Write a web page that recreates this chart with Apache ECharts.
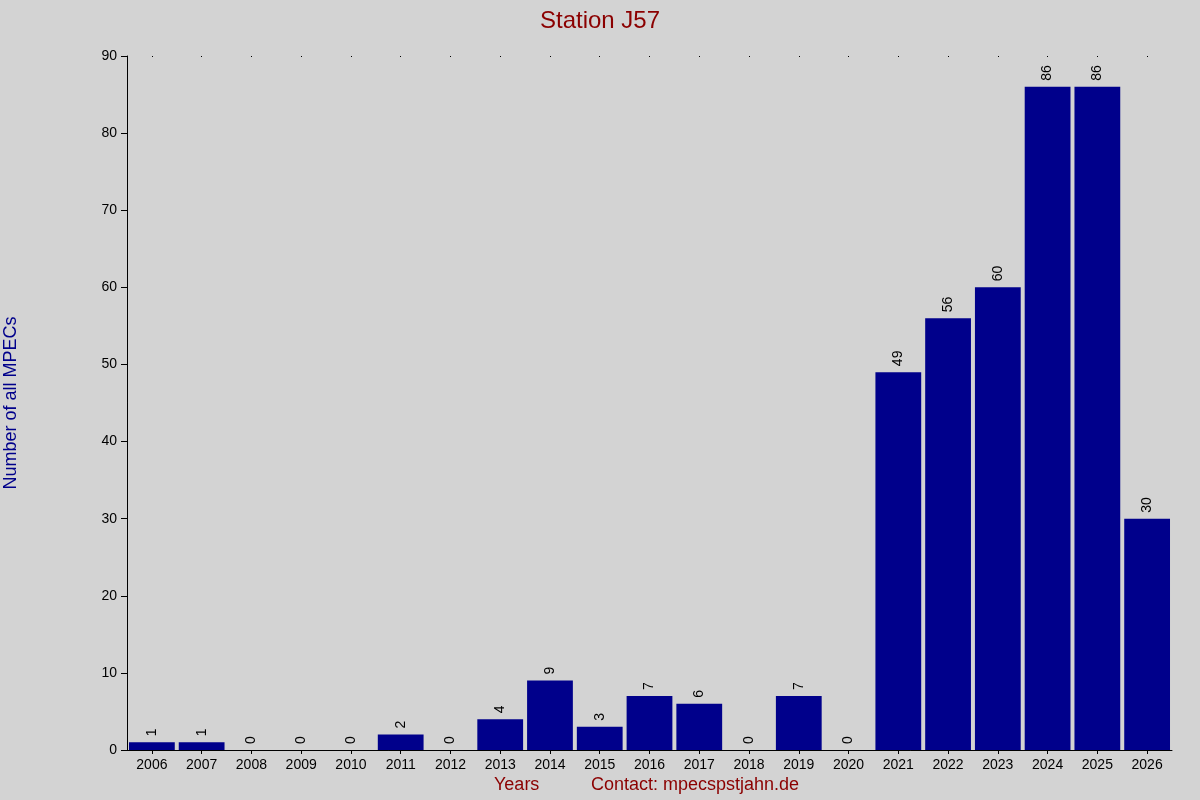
<!DOCTYPE html>
<html><head><meta charset="utf-8">
<script src="https://cdn.jsdelivr.net/npm/echarts@6/dist/echarts.min.js"></script>
<style>html,body{margin:0;padding:0;background:#d3d3d3}#c{width:1200px;height:800px}</style>
</head><body><div id="c"></div>
<script>
const years = ['2006','2007','2008','2009','2010','2011','2012','2013','2014','2015','2016','2017','2018','2019','2020','2021','2022','2023','2024','2025','2026'];
const counts = [1,1,0,0,0,2,0,4,9,3,7,6,0,7,0,49,56,60,86,86,30];
const yTicks = {min:0,max:90,interval:10};
const chart = echarts.init(document.getElementById('c'));
const font = 'Liberation Sans, Arial, sans-serif';
chart.setOption({
  backgroundColor:'#d3d3d3',
  animation:false,
  title:{text:'Station J57',left:'center',top:4,textStyle:{color:'#8b0000',fontSize:24,fontWeight:'normal',fontFamily:font}},
  graphic:[
    {type:'text',left:494,top:776,style:{text:'Years',fill:'#8b0000',font:'18px '+font}},
    {type:'text',left:591,top:776,style:{text:'Contact: mpecspstjahn.de',fill:'#8b0000',font:'18px '+font}},
    {type:'text',x:20,y:403,rotation:Math.PI/2,style:{text:'Number of all MPECs',fill:'#00008b',font:'18px '+font,align:'center',verticalAlign:'bottom'}}
  ],
  grid:{left:127,right:28,top:56,bottom:50},
  xAxis:[{type:'category',data:years,axisLine:{lineStyle:{color:'#000'}},axisTick:{show:true,alignWithLabel:true,length:4,lineStyle:{color:'#000'}},
    axisLabel:{color:'#000',fontSize:14,fontFamily:font,margin:8}},
    {type:'category',position:'top',data:years,axisLine:{show:false},axisLabel:{show:false},axisTick:{show:true,alignWithLabel:true,inside:true,length:1,lineStyle:{color:'#000'}}}],
  yAxis:{type:'value',min:yTicks.min,max:yTicks.max,interval:yTicks.interval,splitLine:{show:false},
    axisLine:{show:true,lineStyle:{color:'#000'}},axisTick:{show:true,length:6,lineStyle:{color:'#000'}},
    axisLabel:{color:'#000',fontSize:14,fontFamily:font,margin:10}},
  series:[{type:'bar',data:counts,barCategoryGap:'8%',itemStyle:{color:'#00008b'},
    label:{show:true,position:'top',rotate:90,align:'left',verticalAlign:'middle',distance:6,color:'#000',fontSize:14,fontFamily:font}}]
});
</script></body></html>
